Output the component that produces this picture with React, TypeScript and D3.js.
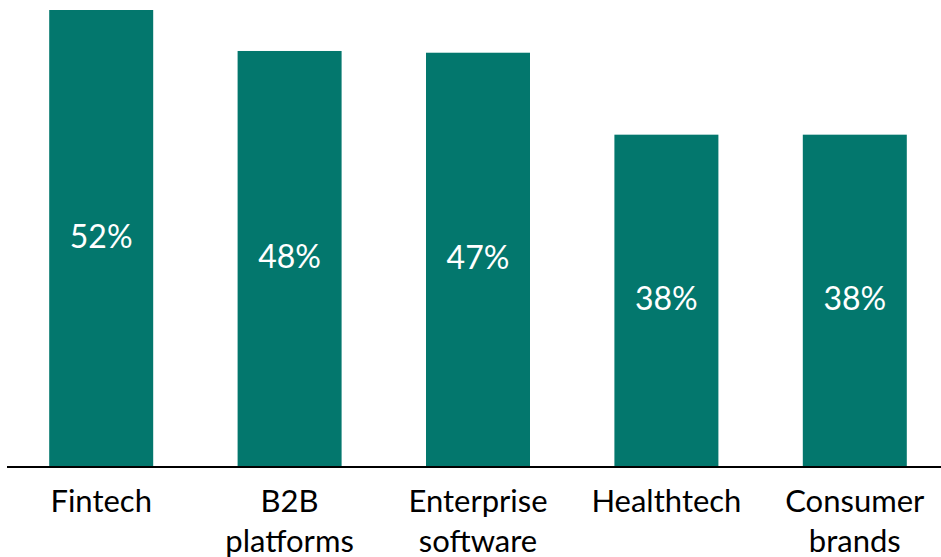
import React from "react";
import * as d3 from "d3";

const categories: string[][] = [["Fintech"], ["B2B", "platforms"], ["Enterprise", "software"], ["Healthtech"], ["Consumer", "brands"]];
const values: number[] = [52.3, 47.6, 47.4, 38.0, 38.0];

const W = 941;
const H = 557;
const FONT = "Lato, 'Open Sans', sans-serif";

export default function App() {
  const x = d3.scaleBand<number>()
    .domain(values.map((_, i) => i))
    .range([7, 949])
    .paddingInner(0.448)
    .paddingOuter(0.224);
  const y = d3.scaleLinear().domain([0, 52.3]).range([466, 10]);

  return (
    <svg width={W} height={H} style={{ position: "absolute", left: 0, top: 0, background: "#fff" }}>
      {values.map((v, i) => {
        const bx = x(i)!;
        const bw = x.bandwidth();
        const top = y(v);
        const cy = (top + y(0)) / 2;
        return (
          <g key={i}>
            <rect x={bx} y={top} width={bw} height={y(0) - top} fill="#03776D" />
            <text x={bx + bw / 2} y={cy + 10} textAnchor="middle"
              fill="#fff" fontFamily={FONT} fontSize={32}>{Math.round(v) + "%"}</text>
            {categories[i].map((line, j) => (
              <text key={j} x={bx + bw / 2} y={512 + j * 40} textAnchor="middle"
                fill="#000" fontFamily={FONT} fontSize={31}>{line}</text>
            ))}
          </g>
        );
      })}
      <line x1={7} x2={W} y1={y(0) + 1} y2={y(0) + 1} stroke="#000" strokeWidth={2} />
    </svg>
  );
}
